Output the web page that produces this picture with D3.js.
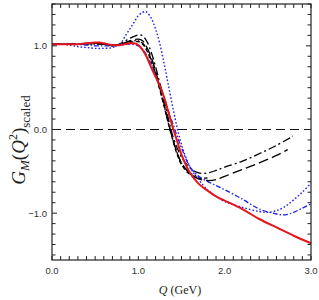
<!DOCTYPE html>
<html>
<head>
<meta charset="utf-8">
<script src="https://cdn.jsdelivr.net/npm/d3@7"></script>
<style>
  body { margin: 0; background: #fff; }
  .tick-label { font-family: "Liberation Sans", Arial, sans-serif; font-size: 9.5px; fill: #333; }
  .axis-title { font-family: "Liberation Serif", "Times New Roman", serif; fill: #222; }
</style>
</head>
<body>
<div class="chart"></div>
<script>
// Q values (GeV) and scaled G_M for each curve
var redQ = [0, 0.1, 0.2, 0.3, 0.4, 0.5, 0.55, 0.6, 0.7, 0.8, 0.9, 0.95, 1.0, 1.05, 1.1, 1.15, 1.2, 1.25, 1.3, 1.35, 1.4, 1.45, 1.5, 1.6, 1.7, 1.8, 1.9, 2.0, 2.2, 2.4, 2.6, 2.8, 3.0];
var redG = [1.02, 1.02, 1.02, 1.02, 1.03, 1.04, 1.04, 1.03, 1.01, 1.01, 1.03, 1.03, 1.01, 0.95, 0.86, 0.74, 0.63, 0.52, 0.38, 0.2, 0.02, -0.14, -0.3, -0.52, -0.65, -0.73, -0.8, -0.85, -0.95, -1.07, -1.17, -1.27, -1.36];

var dashDotQ = [0, 0.2, 0.4, 0.5, 0.6, 0.7, 0.8, 0.9, 1.0, 1.05, 1.1, 1.15, 1.2, 1.25, 1.3, 1.35, 1.4, 1.45, 1.5, 1.6, 1.7, 1.8, 1.9, 2.0, 2.2, 2.4, 2.6, 2.79];
var dashDotG = [1.02, 1.02, 1.02, 1.03, 1.02, 1.0, 1.03, 1.09, 1.13, 1.12, 1.05, 0.92, 0.75, 0.55, 0.35, 0.12, -0.08, -0.22, -0.33, -0.46, -0.52, -0.52, -0.49, -0.45, -0.38, -0.29, -0.19, -0.08];

var longDashQ = [0, 0.2, 0.4, 0.5, 0.6, 0.7, 0.8, 0.9, 1.0, 1.05, 1.1, 1.15, 1.2, 1.25, 1.3, 1.35, 1.4, 1.45, 1.5, 1.6, 1.7, 1.8, 1.9, 2.0, 2.2, 2.4, 2.6, 2.73];
var longDashG = [1.02, 1.02, 1.03, 1.03, 1.02, 1.01, 1.02, 1.06, 1.08, 1.06, 0.98, 0.86, 0.7, 0.5, 0.3, 0.08, -0.12, -0.28, -0.4, -0.53, -0.59, -0.61, -0.6, -0.56, -0.48, -0.4, -0.31, -0.24];

var shortDashQ = [0, 0.2, 0.4, 0.5, 0.6, 0.7, 0.8, 0.9, 1.0, 1.05, 1.1, 1.15, 1.2, 1.25, 1.3, 1.35, 1.4, 1.45, 1.5, 1.6, 1.7, 1.8];
var shortDashG = [1.02, 1.02, 1.02, 1.03, 1.03, 1.01, 1.01, 1.04, 1.05, 1.02, 0.94, 0.81, 0.66, 0.47, 0.27, 0.06, -0.13, -0.3, -0.42, -0.54, -0.58, -0.58];

var dotDotQ = [0, 0.2, 0.4, 0.5, 0.6, 0.7, 0.8, 0.9, 1.0, 1.05, 1.1, 1.15, 1.2, 1.25, 1.3, 1.35, 1.4, 1.45, 1.5, 1.6, 1.7];
var dotDotG = [1.02, 1.02, 1.02, 1.02, 1.02, 1.0, 1.02, 1.05, 1.06, 1.03, 0.96, 0.83, 0.67, 0.48, 0.28, 0.07, -0.12, -0.28, -0.4, -0.52, -0.56];

var blueDashDotQ = [0, 0.2, 0.4, 0.5, 0.6, 0.7, 0.8, 0.9, 1.0, 1.05, 1.1, 1.15, 1.2, 1.25, 1.3, 1.35, 1.4, 1.45, 1.5, 1.6, 1.7, 1.8, 1.9, 2.0, 2.2, 2.4, 2.6, 2.7, 2.8, 2.9, 3.0];
var blueDashDotG = [1.02, 1.02, 1.01, 1.0, 1.0, 1.0, 1.01, 1.02, 1.0, 0.96, 0.88, 0.77, 0.65, 0.52, 0.38, 0.22, 0.07, -0.08, -0.22, -0.45, -0.56, -0.62, -0.67, -0.72, -0.83, -0.95, -1.01, -1.02, -0.99, -0.94, -0.89];

var blueDotQ = [0, 0.1, 0.2, 0.3, 0.4, 0.5, 0.6, 0.7, 0.8, 0.85, 0.9, 0.95, 1.0, 1.05, 1.08, 1.1, 1.15, 1.2, 1.25, 1.3, 1.35, 1.4, 1.45, 1.5, 1.6, 1.7, 1.8, 1.9, 2.0, 2.2, 2.4, 2.5, 2.6, 2.7, 2.8, 2.9, 3.0];
var blueDotG = [1.02, 1.02, 1.01, 0.99, 0.98, 0.97, 0.97, 0.98, 1.04, 1.12, 1.2, 1.28, 1.36, 1.4, 1.41, 1.4, 1.33, 1.2, 1.02, 0.78, 0.52, 0.26, 0.02, -0.18, -0.45, -0.6, -0.72, -0.8, -0.86, -0.93, -0.98, -0.99, -0.97, -0.92, -0.84, -0.75, -0.64];

var xTicks = [0, 1, 2, 3];
var yTicks = [-1, 0, 1];

var svgWidth = 319;
var svgHeight = 300;
var margin = { top: 4, right: 8, bottom: 40, left: 52 };
var width = svgWidth - margin.left - margin.right;
var height = svgHeight - margin.top - margin.bottom;

var svg = d3.select(".chart")
  .append("svg")
  .attr("width", svgWidth)
  .attr("height", svgHeight);

var chartGroup = svg.append("g")
  .attr("transform", `translate(${margin.left}, ${margin.top})`);

var xScale = d3.scaleLinear().domain([0, 3]).range([0, width]);
var yScale = d3.scaleLinear().domain([-1.56, 1.5]).range([height, 0]);

// zero reference line
chartGroup.append("line")
  .attr("x1", 0).attr("x2", width)
  .attr("y1", yScale(0)).attr("y2", yScale(0))
  .attr("stroke", "#111")
  .attr("stroke-width", 1.2)
  .attr("stroke-dasharray", "9,5");

var curves = [
  { q: dotDotQ, g: dotDotG, color: "#000", w: 1.3, dash: "6,2,1.5,2,1.5,2" },
  { q: shortDashQ, g: shortDashG, color: "#000", w: 1.3, dash: "4,2.5" },
  { q: longDashQ, g: longDashG, color: "#000", w: 1.3, dash: "10,4" },
  { q: dashDotQ, g: dashDotG, color: "#000", w: 1.3, dash: "8,3,2,3" },
  { q: blueDashDotQ, g: blueDashDotG, color: "#1f1fe6", w: 1.3, dash: "5,2,1.5,2" },
  { q: blueDotQ, g: blueDotG, color: "#1f1fe6", w: 1.4, dash: "1.6,2" },
  { q: redQ, g: redG, color: "#e8141b", w: 2, dash: null }
];

var drawLine = d3.line()
  .x(d => xScale(d[0]))
  .y(d => yScale(d[1]))
  .curve(d3.curveCatmullRom);

curves.forEach(function(c) {
  var pts = c.q.map((q, i) => [q, c.g[i]]);
  chartGroup.append("path")
    .attr("d", drawLine(pts))
    .attr("fill", "none")
    .attr("stroke", c.color)
    .attr("stroke-width", c.w)
    .attr("stroke-dasharray", c.dash);
});

// frame
chartGroup.append("rect")
  .attr("width", width)
  .attr("height", height)
  .attr("fill", "none")
  .attr("stroke", "#222")
  .attr("stroke-width", 1.2);

// inward ticks on all four sides
var xMinor = d3.range(0, 31).map(d => d / 10);
var yMinor = d3.range(-12, 13).map(d => d / 8);

chartGroup.selectAll(".xtick")
  .data(xMinor)
  .enter().append("line")
  .attr("x1", d => xScale(d)).attr("x2", d => xScale(d))
  .attr("y1", height).attr("y2", height - 4)
  .attr("stroke", "#222");

chartGroup.selectAll(".xtickTop")
  .data(xMinor)
  .enter().append("line")
  .attr("x1", d => xScale(d)).attr("x2", d => xScale(d))
  .attr("y1", 0).attr("y2", 4)
  .attr("stroke", "#222");

chartGroup.selectAll(".ytick")
  .data(yMinor)
  .enter().append("line")
  .attr("y1", d => yScale(d)).attr("y2", d => yScale(d))
  .attr("x1", 0).attr("x2", d => Number.isInteger(d) ? 5 : 3.5)
  .attr("stroke", "#222");

chartGroup.selectAll(".ytickRight")
  .data(yMinor)
  .enter().append("line")
  .attr("y1", d => yScale(d)).attr("y2", d => yScale(d))
  .attr("x1", width).attr("x2", d => width - (Number.isInteger(d) ? 5 : 3.5))
  .attr("stroke", "#222");

// tick labels
chartGroup.selectAll(".xlab")
  .data(xTicks)
  .enter().append("text")
  .attr("class", "tick-label")
  .attr("x", d => xScale(d))
  .attr("y", height + 14)
  .attr("text-anchor", "middle")
  .text(d => d3.format(".1f")(d));

chartGroup.selectAll(".ylab")
  .data(yTicks)
  .enter().append("text")
  .attr("class", "tick-label")
  .attr("x", -5)
  .attr("y", d => yScale(d) + 3.5)
  .attr("text-anchor", "end")
  .text(d => d3.format(".1f")(d));

// axis titles
var xTitle = svg.append("text")
  .attr("class", "axis-title")
  .attr("x", 180)
  .attr("y", 294)
  .attr("text-anchor", "middle")
  .attr("font-size", 12);
xTitle.append("tspan").attr("font-style", "italic").text("Q");
xTitle.append("tspan").text(" (GeV)");

var yTitle = svg.append("text")
  .attr("class", "axis-title")
  .attr("transform", "translate(25, 140) rotate(-90)")
  .attr("text-anchor", "middle")
  .attr("font-size", 19);
yTitle.append("tspan").attr("font-style", "italic").text("G");
yTitle.append("tspan").attr("font-style", "italic").attr("font-size", 13).attr("dy", 4).text("M");
yTitle.append("tspan").attr("dy", -4).text("(");
yTitle.append("tspan").attr("font-style", "italic").text("Q");
yTitle.append("tspan").attr("font-size", 12).attr("dy", -8).text("2");
yTitle.append("tspan").attr("dy", 8).text(")");
yTitle.append("tspan").attr("font-size", 13).attr("dy", 5).text("scaled");
</script>
</body>
</html>
